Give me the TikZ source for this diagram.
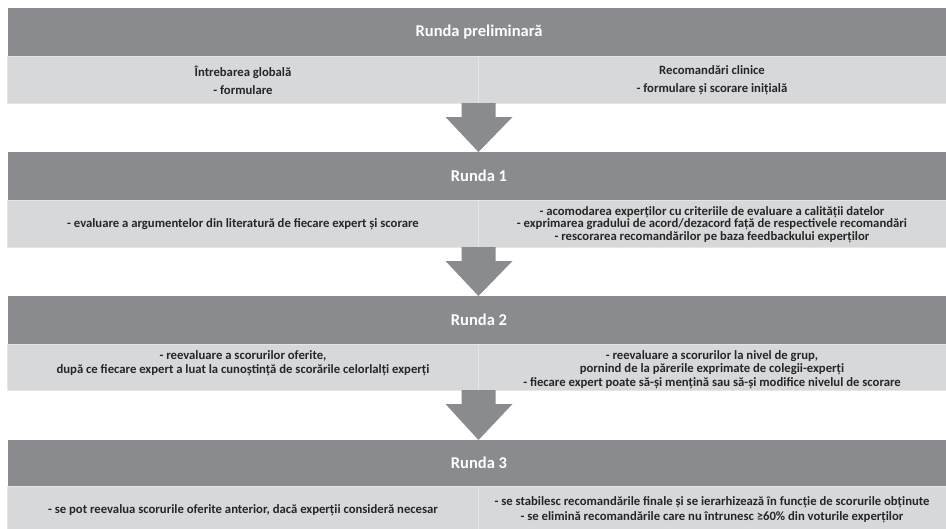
\documentclass[tikz,border=0pt]{standalone}
\usepackage{fontspec}
\setmainfont{Carlito}
\usetikzlibrary{calc}
\definecolor{hdrgray}{HTML}{8A8B8E}
\definecolor{cellgray}{HTML}{D7D8DA}
\definecolor{cellline}{HTML}{E6E6E8}
\definecolor{txt}{HTML}{262626}
\newcommand\blockarrow[2]{%
  \fill[arrowfill] ($(#1)+(-17,0)$) -- ($(#1)+(17,0)$) -- ($(#1)+(17,14)$) -- ($(#1)+(34,14)$)
    -- (#1 |- #2.north) -- ($(#1)+(-33,14)$) -- ($(#1)+(-17,14)$) -- cycle;}
\begin{document}
\begin{tikzpicture}[x=1pt,y=-1pt,
  hdrbox/.style={fill=hdrgray, draw=none, minimum width=938pt, minimum height=48pt,
    inner sep=0pt, outer sep=0pt, anchor=north west},
  cellbox/.style={fill=cellgray, draw=cellline, line width=0.8pt, minimum height=#1,
    inner sep=0pt, outer sep=0pt, anchor=north west},
  leftcell/.style={cellbox=#1, minimum width=471.5pt},
  rightcell/.style={cellbox=#1, minimum width=467.5pt},
  arrowfill/.style={fill=hdrgray},
  htext/.style={text=white, font=\fontsize{16.5}{19}\selectfont\bfseries, inner sep=0pt},
  ctext/.style={text=txt, font=\fontsize{12.7}{#1}\selectfont\bfseries, align=center, inner sep=0pt},
  ctext/.default=12.5pt
]
\useasboundingbox (0,0) rectangle (946,528);

% --- Runda preliminara
\node[hdrbox] (h0) at (8,8) {};
\node[leftcell=47pt] (r0l) at (7,56) {};
\node[rightcell=47pt] (r0r) at (478.5,56) {};
\node[htext] (h0t) at (479,32) {Runda preliminară};
\node[ctext=18pt] (t0l) at (243,80) {Întrebarea globală\\- formulare};
\node[ctext=18pt] (t0r) at (712,80) {Recomandări clinice\\- formulare și scorare inițială};

% --- Runda 1
\node[hdrbox] (h1) at (8,152) {};
\node[leftcell=47pt] (r1l) at (7,200) {};
\node[rightcell=47pt] (r1r) at (478.5,200) {};
\node[htext] (h1t) at (479,176) {Runda 1};
\node[ctext] (t1l) at (243,224.5) {- evaluare a argumentelor din literatură de fiecare expert și scorare};
\node[ctext=12.5pt] (t1r) at (712,224.5) {- acomodarea experților cu criteriile de evaluare a calității datelor\\- exprimarea gradului de acord/dezacord față de respectivele recomandări\\- rescorarea recomandărilor pe baza feedbackului experților};

% --- Runda 2
\node[hdrbox] (h2) at (8,296) {};
\node[leftcell=46pt] (r2l) at (7,344) {};
\node[rightcell=46pt] (r2r) at (478.5,344) {};
\node[htext] (h2t) at (479,320) {Runda 2};
\node[ctext=13.5pt] (t2l) at (243,363) {- reevaluare a scorurilor oferite,\\după ce fiecare expert a luat la cunoștință de scorările celorlalți experți};
\node[ctext=13.5pt] (t2r) at (712,369.5) {- reevaluare a scorurilor la nivel de grup,\\pornind de la părerile exprimate de colegii-experți\\- fiecare expert poate să-și mențină sau să-și modifice nivelul de scorare};

% --- Runda 3
\node[hdrbox] (h3) at (8,440) {};
\node[leftcell=44pt] (r3l) at (7,486) {};
\node[rightcell=44pt] (r3r) at (478.5,486) {};
\node[htext] (h3t) at (479,463) {Runda 3};
\node[ctext] (t3l) at (243,510.5) {- se pot reevalua scorurile oferite anterior, dacă experții consideră necesar};
\node[ctext=15pt] (t3r) at (712,509.5) {- se stabilesc recomandările finale și se ierarhizează în funcție de scorurile obținute\\- se elimină recomandările care nu întrunesc ≥60\% din voturile experților};

% --- arrows
\coordinate (c0) at (r0l.south east);
\coordinate (c1) at (r1l.south east);
\coordinate (c2) at (r2l.south east);
\blockarrow{c0}{h1}
\blockarrow{c1}{h2}
\blockarrow{c2}{h3}
\end{tikzpicture}
\end{document}
